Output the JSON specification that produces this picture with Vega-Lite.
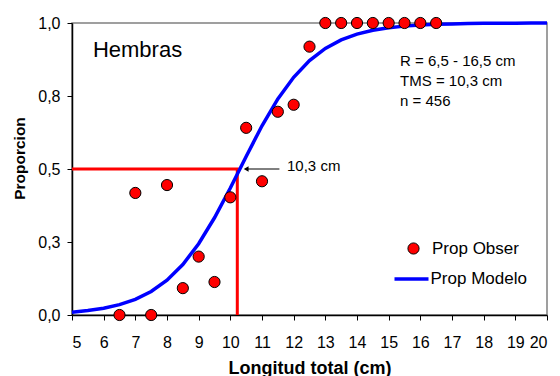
{
  "$schema": "https://vega.github.io/schema/vega-lite/v6.json",
  "width": 475,
  "height": 292,
  "autosize": "none",
  "padding": {"left": 72, "top": 23, "right": 13, "bottom": 61},
  "background": "white",
  "config": {
    "font": "Liberation Sans",
    "view": {"stroke": "#808080", "strokeWidth": 1.5},
    "axis": {"grid": false, "domainColor": "black", "domainWidth": 1.5, "tickColor": "black", "tickWidth": 1, "tickSize": 5, "labelColor": "black", "titleColor": "black", "labelFont": "Liberation Sans", "titleFont": "Liberation Sans"}
  },
  "datasets": {
    "obs": [
      {"longitud": 6.5, "prop": 0.0, "serie": "Prop Obser"},
      {"longitud": 7.0, "prop": 0.418, "serie": "Prop Obser"},
      {"longitud": 7.5, "prop": 0.0, "serie": "Prop Obser"},
      {"longitud": 8.0, "prop": 0.445, "serie": "Prop Obser"},
      {"longitud": 8.5, "prop": 0.092, "serie": "Prop Obser"},
      {"longitud": 9.0, "prop": 0.2, "serie": "Prop Obser"},
      {"longitud": 9.5, "prop": 0.113, "serie": "Prop Obser"},
      {"longitud": 10.0, "prop": 0.403, "serie": "Prop Obser"},
      {"longitud": 10.5, "prop": 0.641, "serie": "Prop Obser"},
      {"longitud": 11.0, "prop": 0.458, "serie": "Prop Obser"},
      {"longitud": 11.5, "prop": 0.696, "serie": "Prop Obser"},
      {"longitud": 12.0, "prop": 0.72, "serie": "Prop Obser"},
      {"longitud": 12.5, "prop": 0.919, "serie": "Prop Obser"},
      {"longitud": 13.0, "prop": 1.0, "serie": "Prop Obser"},
      {"longitud": 13.5, "prop": 1.0, "serie": "Prop Obser"},
      {"longitud": 14.0, "prop": 1.0, "serie": "Prop Obser"},
      {"longitud": 14.5, "prop": 1.0, "serie": "Prop Obser"},
      {"longitud": 15.0, "prop": 1.0, "serie": "Prop Obser"},
      {"longitud": 15.5, "prop": 1.0, "serie": "Prop Obser"},
      {"longitud": 16.0, "prop": 1.0, "serie": "Prop Obser"},
      {"longitud": 16.5, "prop": 1.0, "serie": "Prop Obser"}
    ],
    "modelo": [
      {"longitud": 5.0, "prop": 0.0098, "serie": "Prop Modelo"},
      {"longitud": 5.5, "prop": 0.0151, "serie": "Prop Modelo"},
      {"longitud": 6.0, "prop": 0.0232, "serie": "Prop Modelo"},
      {"longitud": 6.5, "prop": 0.0354, "serie": "Prop Modelo"},
      {"longitud": 7.0, "prop": 0.0536, "serie": "Prop Modelo"},
      {"longitud": 7.5, "prop": 0.0805, "serie": "Prop Modelo"},
      {"longitud": 8.0, "prop": 0.119, "serie": "Prop Modelo"},
      {"longitud": 8.5, "prop": 0.173, "serie": "Prop Modelo"},
      {"longitud": 9.0, "prop": 0.244, "serie": "Prop Modelo"},
      {"longitud": 9.5, "prop": 0.333, "serie": "Prop Modelo"},
      {"longitud": 10.0, "prop": 0.435, "serie": "Prop Modelo"},
      {"longitud": 10.5, "prop": 0.543, "serie": "Prop Modelo"},
      {"longitud": 11.0, "prop": 0.648, "serie": "Prop Modelo"},
      {"longitud": 11.5, "prop": 0.74, "serie": "Prop Modelo"},
      {"longitud": 12.0, "prop": 0.814, "serie": "Prop Modelo"},
      {"longitud": 12.5, "prop": 0.871, "serie": "Prop Modelo"},
      {"longitud": 13.0, "prop": 0.913, "serie": "Prop Modelo"},
      {"longitud": 13.5, "prop": 0.942, "serie": "Prop Modelo"},
      {"longitud": 14.0, "prop": 0.962, "serie": "Prop Modelo"},
      {"longitud": 14.5, "prop": 0.975, "serie": "Prop Modelo"},
      {"longitud": 15.0, "prop": 0.9835, "serie": "Prop Modelo"},
      {"longitud": 15.5, "prop": 0.9893, "serie": "Prop Modelo"},
      {"longitud": 16.0, "prop": 0.993, "serie": "Prop Modelo"},
      {"longitud": 16.5, "prop": 0.9955, "serie": "Prop Modelo"},
      {"longitud": 17.0, "prop": 0.997, "serie": "Prop Modelo"},
      {"longitud": 17.5, "prop": 0.998, "serie": "Prop Modelo"},
      {"longitud": 18.0, "prop": 0.9988, "serie": "Prop Modelo"},
      {"longitud": 18.5, "prop": 0.9992, "serie": "Prop Modelo"},
      {"longitud": 19.0, "prop": 0.9995, "serie": "Prop Modelo"},
      {"longitud": 19.5, "prop": 0.9997, "serie": "Prop Modelo"},
      {"longitud": 20.0, "prop": 0.9998, "serie": "Prop Modelo"}
    ],
    "tms": [
      {"longitud": 5.0, "prop": 0.5, "orden": 1},
      {"longitud": 10.22, "prop": 0.5, "orden": 2},
      {"longitud": 10.22, "prop": 0.0, "orden": 3}
    ],
    "flecha": [
      {"longitud": 11.55, "prop": 0.5},
      {"longitud": 10.5, "prop": 0.5}
    ],
    "borde": [
      {"longitud": 20}
    ],
    "titulo": [
      {"texto": "Hembras", "longitud": 5.66, "prop": 0.885}
    ],
    "stats": [
      {"texto": "R = 6,5 - 16,5 cm", "longitud": 15.36, "prop": 0.853},
      {"texto": "TMS = 10,3 cm", "longitud": 15.36, "prop": 0.784},
      {"texto": "n = 456", "longitud": 15.36, "prop": 0.716}
    ],
    "tmsnota": [
      {"texto": "10,3 cm", "longitud": 11.79, "prop": 0.51}
    ]
  },
  "resolve": {"scale": {"color": "independent"}, "legend": {"color": "independent"}},
  "encoding": {
    "x": {"field": "longitud", "type": "quantitative", "scale": {"domain": [5, 20], "nice": false, "zero": false},
      "axis": {"values": [5,6,7,8,9,10,11,12,13,14,15,16,17,18,19,20], "format": "d", "labelFontSize": 16, "labelPadding": 14, "title": "Longitud total (cm)", "titleFontSize": 18, "titleFontWeight": "bold", "titleBaseline": "alphabetic", "titleY": 58}},
    "y": {"field": "prop", "type": "quantitative", "scale": {"domain": [0, 1], "nice": false},
      "axis": {"values": [0, 0.25, 0.5, 0.75, 1], "labelExpr": "datum.value == 0.25 ? '0,3' : datum.value == 0.75 ? '0,8' : replace(format(datum.value, '.1f'), '.', ',')", "labelFontSize": 16, "labelPadding": 7, "title": "Proporcion", "titleFontSize": 15.5, "titleFontWeight": "bold", "titleAngle": 270, "titleAlign": "center", "titleBaseline": "middle", "titleX": -53, "titleY": 135}}
  },
  "layer": [
    {
      "data": {"name": "borde"},
      "mark": {"type": "rule", "color": "black", "strokeWidth": 1.5},
      "encoding": {"x": {"field": "longitud", "type": "quantitative"}, "y": {"datum": 0}, "y2": {"datum": 1}}
    },
    {
      "data": {"name": "tms"},
      "mark": {"type": "line", "color": "#FF0000", "strokeWidth": 3},
      "encoding": {"order": {"field": "orden", "type": "quantitative"}}
    },
    {
      "data": {"name": "modelo"},
      "mark": {"type": "line", "strokeWidth": 3.5},
      "encoding": {
        "color": {"field": "serie", "type": "nominal", "scale": {"range": ["#0000FF"]},
          "legend": {"orient": "none", "legendX": 320.5, "legendY": 237, "title": null, "padding": 0, "symbolType": "stroke", "symbolSize": 1156, "symbolStrokeWidth": 3.5, "labelFontSize": 17, "labelFont": "Liberation Sans", "labelColor": "black", "labelOffset": 0}}
      }
    },
    {
      "data": {"name": "flecha"},
      "mark": {"type": "line", "color": "black", "strokeWidth": 1}
    },
    {
      "data": {"name": "flecha"},
      "transform": [{"filter": "datum.longitud < 11"}],
      "mark": {"type": "point", "shape": "triangle-left", "filled": true, "color": "black", "size": 30, "opacity": 1}
    },
    {
      "data": {"name": "obs"},
      "mark": {"type": "point", "filled": true, "size": 125, "stroke": "black", "strokeWidth": 1, "opacity": 1},
      "encoding": {
        "color": {"field": "serie", "type": "nominal", "scale": {"range": ["#FF0000"]},
          "legend": {"orient": "none", "legendX": 333, "legendY": 217, "title": null, "padding": 0, "symbolType": "circle", "symbolSize": 125, "symbolStrokeColor": "black", "symbolStrokeWidth": 1, "symbolFillColor": "#FF0000", "labelFontSize": 17, "labelFont": "Liberation Sans", "labelColor": "black", "labelOffset": 10}}
      }
    },
    {
      "data": {"name": "titulo"},
      "mark": {"type": "text", "fontSize": 22, "align": "left", "baseline": "alphabetic", "fill": "black"},
      "encoding": {"text": {"field": "texto"}}
    },
    {
      "data": {"name": "stats"},
      "mark": {"type": "text", "fontSize": 15, "align": "left", "baseline": "alphabetic", "fill": "black"},
      "encoding": {"text": {"field": "texto"}}
    },
    {
      "data": {"name": "tmsnota"},
      "mark": {"type": "text", "fontSize": 15, "align": "left", "baseline": "middle", "fill": "black"},
      "encoding": {"text": {"field": "texto"}}
    }
  ]
}
